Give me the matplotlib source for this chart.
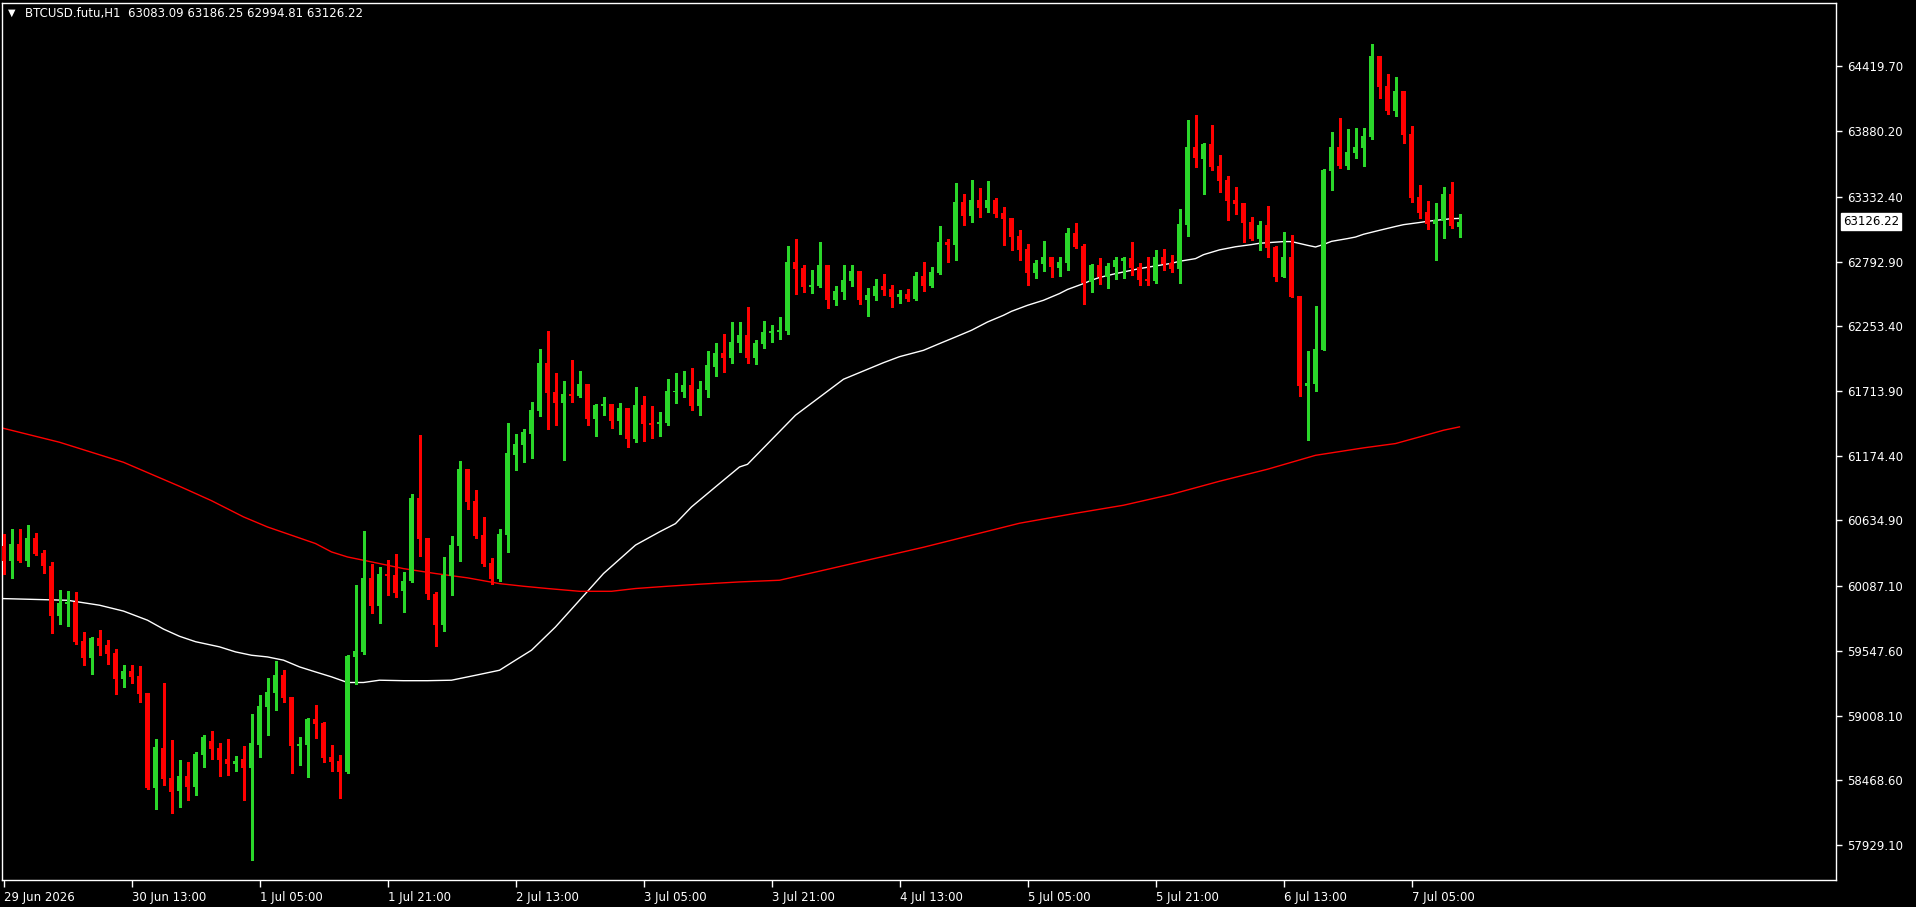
import numpy as np
import matplotlib
matplotlib.use("Agg")
import matplotlib.pyplot as plt
import matplotlib.transforms as mtransforms

# ---------------- data ----------------
opens = [60420, 60295, 60437, 60295, 60487, 60362, 60254, 59840, 59940, 59957,
         59629, 59490, 59654, 59596, 59529, 59315, 59379, 59337, 59196, 58407,
         58737, 58487, 58382, 58504, 58415, 58682, 58796, 58737, 58646, 58607,
         58646, 58574, 58765, 59082, 59198, 59346, 59162, 58757, 58765, 58979,
         58946, 58662, 58629, 58540, 59498, 59540, 60154, 59923, 60193, 60179,
         60045, 60129, 60820, 60487, 60023, 59762, 60176, 60423, 61062, 60795,
         60512, 60279, 60146, 60512, 61181, 61265, 61354, 61545, 61945, 61704,
         61612, 61687, 61673, 61770, 61478, 61590, 61604, 61462, 61570, 61312,
         61595, 61445, 61437, 61445, 61704, 61704, 61762, 61587, 61720, 61912,
         62028, 61987, 62112, 62178, 61990, 62103, 62195, 62203, 62212, 62787,
         62737, 62578, 62587, 62762, 62470, 62537, 62628, 62712, 62470, 62503,
         62587, 62562, 62495, 62520, 62478, 62670, 62587, 62695, 62953, 62928,
         63287, 63170, 63303, 63237, 63303, 63195, 63153, 63003, 62895, 62695,
         62770, 62828, 62737, 62778, 63028, 62920, 62620, 62762, 62662, 62745,
         62795, 62820, 62745, 62645, 62628, 62828, 62778, 62728, 63095, 63745,
         63645, 63770, 63587, 63470, 63303, 63278, 63120, 62978, 63095, 62912,
         62662, 62828, 62503, 61753, 61770, 62053, 63545, 63745, 63587, 63695,
         63737, 63828, 64503, 64253, 64045, 64211, 63853, 63328, 63203, 63103,
         63128, 63353, 63083.09]
highs = [60526, 60562, 60562, 60595, 60529, 60387, 60287, 60054, 60045, 60037,
         59704, 59662, 59720, 59637, 59562, 59429, 59429, 59421, 59196, 58812,
         59279, 58804, 58637, 58621, 58704, 58846, 58879, 58779, 58812, 58671,
         58754, 59021, 59179, 59321, 59462, 59387, 59162, 58829, 58987, 59096,
         58954, 58762, 58679, 59512, 60095, 60545, 60270, 60245, 60304, 60359,
         60204, 60854, 61345, 60487, 60037, 60329, 60504, 61129, 61062, 60887,
         60662, 60320, 60562, 61445, 61354, 61395, 61620, 62062, 62212, 61862,
         61795, 61970, 61879, 61770, 61604, 61662, 61604, 61612, 61570, 61745,
         61670, 61587, 61537, 61812, 61862, 61879, 61904, 61795, 62045, 62112,
         62187, 62287, 62287, 62412, 62140, 62295, 62262, 62328, 62920, 62978,
         62762, 62720, 62953, 62762, 62587, 62762, 62762, 62712, 62570, 62645,
         62687, 62595, 62553, 62562, 62703, 62787, 62745, 63087, 62978, 63445,
         63353, 63470, 63403, 63462, 63320, 63245, 63153, 63053, 62937, 62803,
         62962, 62828, 62828, 63070, 63112, 62937, 62770, 62820, 62778, 62828,
         62828, 62953, 62778, 62828, 62887, 62895, 62845, 63228, 63970, 64011,
         63778, 63928, 63678, 63503, 63411, 63278, 63162, 63128, 63253, 62920,
         63037, 63012, 62503, 62045, 62420, 63562, 63870, 63987, 63895, 63903,
         63903, 64603, 64503, 64353, 64328, 64211, 63920, 63428, 63295, 63278,
         63411, 63453, 63186.25]
lows = [60193, 60157, 60290, 60256, 60345, 60198, 59698, 59773, 59757, 59604,
        59432, 59357, 59515, 59440, 59190, 59248, 59282, 59123, 58399, 58232,
        58432, 58199, 58249, 58307, 58349, 58582, 58649, 58507, 58515, 58549,
        58307, 57807, 58665, 58848, 59057, 59123, 58532, 58599, 58498, 58824,
        58624, 58549, 58324, 58532, 59273, 59523, 59865, 59782, 60015, 59998,
        59870, 60123, 60340, 59982, 59590, 59715, 60012, 60298, 60729, 60490,
        60257, 60106, 60132, 60373, 61054, 61120, 61154, 61504, 61395, 61429,
        61137, 61623, 61662, 61429, 61337, 61512, 61404, 61354, 61245, 61287,
        61295, 61320, 61337, 61429, 61612, 61662, 61554, 61512, 61662, 61837,
        61870, 61945, 62040, 61950, 61940, 62070, 62120, 62145, 62187, 62520,
        62537, 62528, 62578, 62403, 62428, 62478, 62587, 62437, 62337, 62470,
        62512, 62412, 62445, 62462, 62470, 62545, 62580, 62687, 62787, 62803,
        63095, 63120, 63162, 63203, 63162, 62928, 62887, 62803, 62595, 62653,
        62712, 62662, 62670, 62720, 62903, 62437, 62537, 62603, 62570, 62645,
        62653, 62678, 62595, 62595, 62612, 62720, 62703, 62612, 63003, 63578,
        63353, 63553, 63370, 63137, 63187, 62953, 62970, 62886, 62828, 62628,
        62662, 62495, 61670, 61304, 61712, 62053, 63387, 63570, 63562, 63653,
        63587, 63812, 64153, 64020, 64003, 63778, 63286, 63153, 63061, 62803,
        62987, 63070, 62994.81]
closes = [60295, 60437, 60295, 60487, 60354, 60256, 59840, 59945, 59954, 59623,
          59490, 59654, 59590, 59523, 59315, 59379, 59332, 59190, 58407, 58746,
          58482, 58374, 58504, 58415, 58687, 58829, 58732, 58640, 58607, 58629,
          58574, 58779, 59087, 59204, 59346, 59157, 58757, 58771, 58979, 58940,
          58657, 58624, 58540, 59504, 59545, 60154, 59923, 60193, 60173, 60029,
          60129, 60820, 60481, 60023, 59762, 60182, 60429, 61062, 60790, 60504,
          60273, 60148, 60520, 61195, 61270, 61370, 61554, 61945, 61698, 61612,
          61687, 61673, 61770, 61478, 61595, 61604, 61462, 61570, 61312, 61595,
          61437, 61429, 61454, 61712, 61715, 61762, 61587, 61728, 61928, 62028,
          61987, 62120, 62178, 61990, 62110, 62203, 62212, 62220, 62787, 62728,
          62578, 62595, 62762, 62470, 62545, 62637, 62712, 62470, 62512, 62587,
          62553, 62495, 62520, 62478, 62670, 62587, 62703, 62953, 62928, 63287,
          63170, 63303, 63237, 63303, 63187, 63145, 62995, 62887, 62695, 62778,
          62828, 62745, 62787, 63028, 62912, 62612, 62762, 62662, 62753, 62803,
          62820, 62737, 62637, 62628, 62828, 62770, 62728, 63103, 63745, 63653,
          63770, 63578, 63462, 63295, 63270, 63112, 62978, 63095, 62903, 62662,
          62828, 62495, 61753, 61778, 62062, 63553, 63745, 63587, 63703, 63745,
          63837, 64503, 64245, 64045, 64211, 63845, 63320, 63195, 63103, 63136,
          63353, 63087, 63126.22]

# moving averages (bar index, value)
ma_fast_idx = [0, 8, 12, 15, 18, 20, 22, 24, 27, 29, 31, 33, 35, 37, 39, 41, 43, 45,
               47, 50, 53, 56, 59, 62, 64, 66, 69, 72, 75, 79, 82, 84, 86, 89, 92,
               93, 99, 105, 110, 112, 115, 117, 119, 121, 123, 125, 126, 128, 130,
               132, 133, 135, 136, 137, 139, 140, 142, 144, 146, 147, 149, 150, 151,
               152, 154, 156, 157, 160, 161, 163, 164, 165, 166, 168, 169, 170, 172,
               174, 175, 177, 178, 179, 181, 182]
ma_fast_val = [59984, 59970, 59929, 59880, 59804, 59730, 59670, 59625, 59582, 59540,
               59512, 59498, 59471, 59415, 59373, 59332, 59285, 59285, 59304, 59300,
               59300, 59304, 59345, 59387, 59471, 59554, 59748, 59970, 60193, 60430,
               60540, 60609, 60748, 60915, 61081, 61103, 61512, 61812, 61950, 62000,
               62053, 62109, 62164, 62220, 62289, 62345, 62378, 62428, 62470, 62526,
               62560, 62609, 62637, 62660, 62692, 62706, 62734, 62756, 62778, 62795,
               62817, 62850, 62870, 62890, 62916, 62934, 62945, 62959, 62959, 62928,
               62914, 62935, 62961, 62984, 62997, 63020, 63053, 63085, 63100, 63118,
               63128, 63136, 63150, 63152]
ma_slow_idx = [0, 7, 15, 22, 26, 30, 33, 36, 39, 41, 43, 46, 50, 54, 58, 62, 65, 68,
               72, 76, 79, 83, 87, 92, 97, 103, 109, 115, 121, 127, 134, 140, 146,
               152, 158, 164, 170, 174, 177, 180, 182]
ma_slow_val = [61403, 61287, 61120, 60920, 60800, 60665, 60581, 60512, 60443, 60373,
               60331, 60290, 60234, 60193, 60157, 60109, 60087, 60068, 60045, 60045,
               60068, 60087, 60104, 60123, 60137, 60228, 60320, 60412, 60512, 60612,
               60695, 60762, 60853, 60962, 61062, 61178, 61240, 61276, 61331, 61387,
               61415]

x_tick_labels = ["29 Jun 2026", "30 Jun 13:00", "1 Jul 05:00", "1 Jul 21:00",
                 "2 Jul 13:00", "3 Jul 05:00", "3 Jul 21:00", "4 Jul 13:00",
                 "5 Jul 05:00", "5 Jul 21:00", "6 Jul 13:00", "7 Jul 05:00"]
y_tick_values = [64419.70, 63880.20, 63332.40, 62792.90, 62253.40, 61713.90,
                 61174.40, 60634.90, 60087.10, 59547.60, 59008.10, 58468.60, 57929.10]
title_text = "BTCUSD.futu,H1  63083.09 63186.25 62994.81 63126.22"
last_price = 63126.22

# ---------------- drawing ----------------
W, H = 1916, 907
fig = plt.figure(figsize=(W / 100, H / 100), dpi=100, facecolor="black")
ax = fig.add_axes([2 / W, 27 / H, 1834 / W, 877 / H], facecolor="black")

o = np.array(opens, float)
h = np.array(highs, float)
l = np.array(lows, float)
c = np.array(closes, float)
x = np.arange(len(o))
up = c >= o
green = "#2ad62a"
red = "#ff0000"
cols = np.where(up, green, red)

ax.vlines(x, l, h, colors=cols, linewidth=0.75, antialiased=False, zorder=3)
body_bottom = np.minimum(o, c)
body_h = np.maximum(np.abs(c - o), 9)
ax.bar(x, body_h, bottom=body_bottom, width=0.67, color=cols,
       linewidth=0, antialiased=False, zorder=4)

ax.plot(ma_fast_idx, ma_fast_val, color="white", linewidth=1.0, zorder=2)
ax.plot(ma_slow_idx, ma_slow_val, color="#ff0000", linewidth=1.0, zorder=2)

ax.set_xlim((2 - 3.5) / 8, (1836 - 3.5) / 8)
ax.set_ylim(64419.7 - (880 - 66.3) * 8.333, 64419.7 + (66.3 - 3) * 8.333)

for s in ax.spines.values():
    s.set_color("white")
    s.set_linewidth(1.0)

ax.set_xticks(np.arange(len(x_tick_labels)) * 16)
ax.set_xticklabels(x_tick_labels, ha="left")
ax.tick_params(axis="x", colors="white", length=5, width=1, direction="out",
               pad=3, labelsize=8.5)
ax.yaxis.tick_right()
ax.set_yticks(y_tick_values)
ax.set_yticklabels([f"{v:.2f}" for v in y_tick_values])
ax.tick_params(axis="y", colors="white", length=4, width=1, direction="out",
               pad=4, labelsize=8.5)

# offset x tick labels a bit to the right (MT4 style)
offset = mtransforms.ScaledTranslation(1 / 100, 0, fig.dpi_scale_trans)
for t in ax.get_xticklabels():
    t.set_transform(t.get_transform() + offset)

# current price label
ax.annotate(f"{last_price:.2f}", xy=(1.0, last_price),
            xycoords=("axes fraction", "data"), xytext=(5, 0),
            textcoords="offset points", va="center", ha="left",
            color="black", fontsize=8.5,
            bbox=dict(boxstyle="square,pad=0.15", facecolor="white",
                      edgecolor="white"), annotation_clip=False, zorder=10)

# title
fig.text(8 / W, 1 - 13 / H, "\u25BC", color="white", fontsize=7,
         va="center", ha="left")
fig.text(25 / W, 1 - 14 / H, title_text, color="white", fontsize=8.5,
         va="center", ha="left")

fig.savefig("out.png", dpi=100, facecolor="black")
